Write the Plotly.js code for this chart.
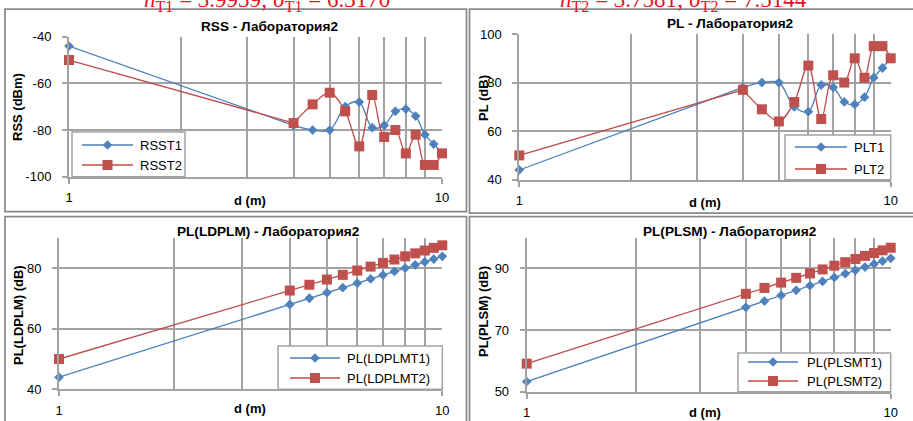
<!DOCTYPE html>
<html>
<head>
<meta charset="utf-8">
<script src="https://cdn.plot.ly/plotly-3.0.1.min.js"></script>
<style>
  html, body { margin: 0; padding: 0; background: #ffffff; }
  #chart { width: 913px; height: 421px; }
</style>
</head>
<body>
<div id="chart"></div>
<script>
// Distances (m)
const distance = [1, 4, 4.5, 5, 5.5, 6, 6.5, 7, 7.5, 8, 8.5, 9, 9.5, 10];

// Received signal strength (dBm)
const rssT1 = [-44, -78, -80, -80, -70, -68, -79, -78, -72, -71, -74, -82, -86, -90];
const rssT2 = [-50, -77, -69, -64, -72, -87, -65, -83, -80, -90, -82, -95, -95, -90];

// Measured path loss (dB)
const plT1 = [44, 78, 80, 80, 70, 68, 79, 78, 72, 71, 74, 82, 86, 90];
const plT2 = [50, 77, 69, 64, 72, 87, 65, 83, 80, 90, 82, 95, 95, 90];

// Log-distance path loss model (dB)
const ldplmT1 = [44.0, 68.05, 70.09, 71.92, 73.57, 75.08, 76.47, 77.75, 78.95, 80.07, 81.12, 82.11, 83.05, 83.94];
const ldplmT2 = [50.0, 72.63, 74.55, 76.27, 77.82, 79.24, 80.55, 81.76, 82.89, 83.94, 84.93, 85.86, 86.74, 87.58];

// Path loss with shadowing (dB)
const plsmT1 = [53.3, 77.35, 79.39, 81.22, 82.87, 84.38, 85.77, 87.05, 88.25, 89.37, 90.42, 91.41, 92.35, 93.24];
const plsmT2 = [59.1, 81.73, 83.65, 85.37, 86.92, 88.34, 89.65, 90.86, 91.99, 93.04, 94.03, 94.96, 95.84, 96.68];

// Text
const chartTitles = ['RSS - Лаборатория2', 'PL - Лаборатория2', 'PL(LDPLM) - Лаборатория2', 'PL(PLSM) - Лаборатория2'];
const yTitles = ['RSS (dBm)', 'PL (dB)', 'PL(LDPLM) (dB)', 'PL(PLSM) (dB)'];
const xTitle = 'd (m)';
const xTickVals = [1, 10];
const xTickText = ['1', '10'];
const xMinorVals = [2, 3, 4, 5, 6, 7, 8, 9];
const rssTicks = [-100, -80, -60, -40];
const rssTickText = ['-100', '-80', '-60', '-40'];
const plTicks = [40, 60, 80, 100];
const ldplmTicks = [40, 60, 80];
const plsmTicks = [50, 70, 90];
const seriesNames = [['RSST1', 'RSST2'], ['PLT1', 'PLT2'], ['PL(LDPLMT1)', 'PL(LDPLMT2)'], ['PL(PLSMT1)', 'PL(PLSMT2)']];
const fitNotes = [
  '<i>n</i><sub>T1</sub> = 3.9939; <i>σ</i><sub>T1</sub> = 6.3170',
  '<i>n</i><sub>T2</sub> = 3.7581; <i>σ</i><sub>T2</sub> = 7.5144'
];

const W = 913, H = 421;
const px = v => v / W;
const py = v => 1 - v / H;

const FONT = 'Liberation Sans, Arial, sans-serif';
const GRID = '#a2a2a2';
const GW = 2;
const BLUE = '#4f81bd', BLUE_LINE = '#4a7ebb';
const RED = '#c0504d', RED_LINE = '#be4b48';

function xAxis(left, right, anchor) {
  return {
    type: 'log', range: [0, 1], domain: [px(left), px(right)], anchor: anchor,
    tickvals: xTickVals, ticktext: xTickText,
    ticks: 'outside', ticklen: 5, tickwidth: GW, tickcolor: GRID,
    ticklabelstandoff: 3,
    showgrid: true, gridcolor: GRID, gridwidth: GW,
    showline: true, linecolor: GRID, linewidth: GW,
    minor: { tickvals: xMinorVals, showgrid: true, gridcolor: GRID, gridwidth: GW, ticks: '' },
    tickfont: { family: FONT, size: 13, color: '#000' },
    zeroline: false, fixedrange: true
  };
}

function yAxis(top, bottom, anchor, range, ticks, text) {
  return {
    range: range, domain: [py(bottom), py(top)], anchor: anchor,
    tickvals: ticks, ticktext: text || ticks.map(String),
    ticks: 'outside', ticklen: 5, tickwidth: GW, tickcolor: GRID,
    ticklabelstandoff: 8,
    showgrid: true, gridcolor: GRID, gridwidth: GW,
    showline: true, linecolor: GRID, linewidth: GW,
    tickfont: { family: FONT, size: 13, color: '#000' },
    zeroline: false, fixedrange: true
  };
}

const blueMarker = { symbol: 'diamond', size: 7.5, color: BLUE, line: { width: 0 } };
const redMarker = { symbol: 'square', size: 10, color: RED, line: { width: 0 } };

// Smoothed measurement series: straight lead-in from 1 m, spline through the rest, markers on every point
function measured(y, name, xa, ya, isFirst) {
  const color = isFirst ? BLUE_LINE : RED_LINE;
  return [
    { x: distance.slice(0, 2), y: y.slice(0, 2), xaxis: xa, yaxis: ya, type: 'scatter', mode: 'lines',
      line: { color: color, width: 1.3 }, hoverinfo: 'skip', showlegend: false },
    { x: distance.slice(1), y: y.slice(1), xaxis: xa, yaxis: ya, type: 'scatter', mode: 'lines',
      line: { color: color, width: 1.3, shape: 'spline', smoothing: 1 }, hoverinfo: 'skip', showlegend: false },
    { x: distance, y: y, name: name, xaxis: xa, yaxis: ya, type: 'scatter', mode: 'markers',
      cliponaxis: false, marker: isFirst ? blueMarker : redMarker, showlegend: false }
  ];
}

function model(y, name, xa, ya, isFirst) {
  return [{
    x: distance, y: y, name: name, xaxis: xa, yaxis: ya, type: 'scatter', mode: 'lines+markers',
    cliponaxis: false, showlegend: false,
    line: { color: isFirst ? BLUE_LINE : RED_LINE, width: 1.3 },
    marker: isFirst ? blueMarker : redMarker
  }];
}

const data = [].concat(
  measured(rssT1, seriesNames[0][0], 'x', 'y', true),
  measured(rssT2, seriesNames[0][1], 'x', 'y', false),
  measured(plT1, seriesNames[1][0], 'x2', 'y2', true),
  measured(plT2, seriesNames[1][1], 'x2', 'y2', false),
  model(ldplmT1, seriesNames[2][0], 'x3', 'y3', true),
  model(ldplmT2, seriesNames[2][1], 'x3', 'y3', false),
  model(plsmT1, seriesNames[3][0], 'x4', 'y4', true),
  model(plsmT2, seriesNames[3][1], 'x4', 'y4', false)
);

// Plot area rectangles in page pixels: [left, right, top, bottom]
const areas = [
  [69, 442, 36.7, 176.7],
  [519.3, 890.7, 34, 179.7],
  [59, 442.3, 238, 389.3],
  [526.7, 890.7, 237.5, 391.7]
];

const shapes = [];
const annotations = [];

// Chart frames
const frames = [[5, 466.5, 9, 211.5], [469.5, 940, 9, 213], [5, 466.5, 216.5, 440], [469.5, 940, 216.5, 440]];
frames.forEach(f => shapes.push({
  type: 'rect', xref: 'paper', yref: 'paper', layer: 'below',
  x0: px(f[0]), x1: px(f[1]), y0: py(f[3]), y1: py(f[2]),
  line: { color: '#8a8a8a', width: 1.75 }, fillcolor: 'rgba(0,0,0,0)'
}));

// Legend keys: box [x0, x1, y0, y1], row centres, swatch line span, label start
const keys = [
  { box: [72, 185, 132, 176.7], rows: [145, 165], line: [82, 133], text: 138 },
  { box: [785, 890.7, 135, 179.7], rows: [147, 169], line: [795, 847], text: 852 },
  { box: [278, 442.3, 346, 389.3], rows: [358, 378], line: [290, 340], text: 345 },
  { box: [738, 890.7, 353, 391.7], rows: [362, 381], line: [748, 798], text: 805 }
];

function diamondPath(cx, cy, r) {
  const pts = [[cx, cy - r], [cx + r, cy], [cx, cy + r], [cx - r, cy]];
  return 'M' + pts.map(p => px(p[0]).toFixed(5) + ',' + py(p[1]).toFixed(5)).join('L') + 'Z';
}

keys.forEach((k, i) => {
  shapes.push({
    type: 'rect', xref: 'paper', yref: 'paper', layer: 'above',
    x0: px(k.box[0]), x1: px(k.box[1]), y0: py(k.box[3]), y1: py(k.box[2]),
    line: { color: GRID, width: 1.5 }, fillcolor: '#ffffff'
  });
  k.rows.forEach((ry, j) => {
    const isFirst = j === 0;
    const color = isFirst ? BLUE_LINE : RED_LINE;
    const cx = (k.line[0] + k.line[1]) / 2;
    shapes.push({
      type: 'line', xref: 'paper', yref: 'paper', layer: 'above',
      x0: px(k.line[0]), x1: px(k.line[1]), y0: py(ry), y1: py(ry),
      line: { color: color, width: 1.3 }
    });
    if (isFirst) {
      shapes.push({
        type: 'path', xref: 'paper', yref: 'paper', layer: 'above',
        path: diamondPath(cx, ry, 4.8), fillcolor: BLUE, line: { width: 0 }
      });
    } else {
      shapes.push({
        type: 'rect', xref: 'paper', yref: 'paper', layer: 'above',
        x0: px(cx - 5), x1: px(cx + 5), y0: py(ry + 5), y1: py(ry - 5),
        fillcolor: RED, line: { width: 0 }
      });
    }
    annotations.push({
      text: seriesNames[i][j], xref: 'paper', yref: 'paper',
      x: px(k.text), y: py(ry), xanchor: 'left', yanchor: 'middle',
      showarrow: false, font: { family: FONT, size: 13, color: '#000' }
    });
  });
});

const titlePos = [[269, 27], [730, 24], [268, 231], [730, 231]];
const yTitlePos = [[18, 107], [483, 98], [18, 315], [483, 312]];
const xTitlePos = [[250, 200], [705, 202], [250, 408], [705, 412]];
for (let i = 0; i < 4; i++) {
  annotations.push({
    text: '<b>' + chartTitles[i] + '</b>', xref: 'paper', yref: 'paper',
    x: px(titlePos[i][0]), y: py(titlePos[i][1]), xanchor: 'center', yanchor: 'middle',
    showarrow: false, font: { family: FONT, size: 13.6, color: '#000' }
  });
  annotations.push({
    text: '<b>' + yTitles[i] + '</b>', xref: 'paper', yref: 'paper', textangle: -90,
    x: px(yTitlePos[i][0]), y: py(yTitlePos[i][1]), xanchor: 'center', yanchor: 'middle',
    showarrow: false, font: { family: FONT, size: 13, color: '#000' }
  });
  annotations.push({
    text: '<b>' + xTitle + '</b>', xref: 'paper', yref: 'paper',
    x: px(xTitlePos[i][0]), y: py(xTitlePos[i][1]), xanchor: 'center', yanchor: 'middle',
    showarrow: false, font: { family: FONT, size: 13, color: '#000' }
  });
}
const notePos = [267, 683];
for (let i = 0; i < 2; i++) {
  annotations.push({
    text: fitNotes[i], xref: 'paper', yref: 'paper',
    x: px(notePos[i]), y: py(17), xanchor: 'center', yanchor: 'bottom',
    showarrow: false, font: { family: 'Liberation Serif, serif', size: 23, color: '#e8141b' }
  });
}

const layout = {
  width: W, height: H,
  margin: { l: 0, r: 0, t: 0, b: 0 },
  paper_bgcolor: '#ffffff', plot_bgcolor: '#ffffff',
  showlegend: false,
  xaxis: xAxis(areas[0][0], areas[0][1], 'y'),
  yaxis: yAxis(areas[0][2], areas[0][3], 'x', [-100, -40], rssTicks, rssTickText),
  xaxis2: xAxis(areas[1][0], areas[1][1], 'y2'),
  yaxis2: yAxis(areas[1][2], areas[1][3], 'x2', [40, 100], plTicks),
  xaxis3: xAxis(areas[2][0], areas[2][1], 'y3'),
  yaxis3: yAxis(areas[2][2], areas[2][3], 'x3', [40, 90], ldplmTicks),
  xaxis4: xAxis(areas[3][0], areas[3][1], 'y4'),
  yaxis4: yAxis(areas[3][2], areas[3][3], 'x4', [50, 100], plsmTicks),
  shapes: shapes,
  annotations: annotations
};

Plotly.newPlot('chart', data, layout, { displayModeBar: false, staticPlot: true });
</script>
</body>
</html>
